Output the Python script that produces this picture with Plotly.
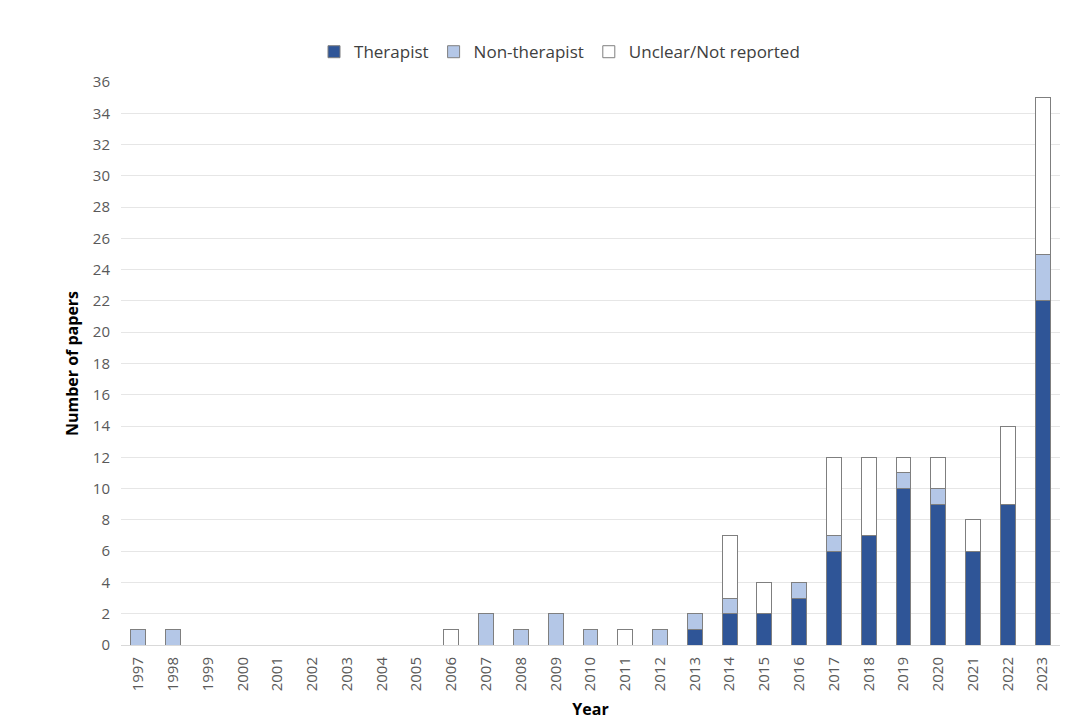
import plotly.graph_objects as go

years = [str(y) for y in range(1997, 2024)]
therapist =     [0,0,0,0,0,0,0,0,0,0,0,0,0,0,0,0,1,2,2,3,6,7,10,9,6,9,22]
non_therapist = [1,1,0,0,0,0,0,0,0,0,2,1,2,1,0,1,1,1,0,1,1,0,1,1,0,0,3]
unclear =       [0,0,0,0,0,0,0,0,0,1,0,0,0,0,1,0,0,4,2,0,5,5,1,2,2,5,10]
y_ticks = list(range(0, 37, 2))

font_family = "Open Sans, Liberation Sans, sans-serif"
line = dict(color="#7f7f7f", width=1)

fig = go.Figure()
fig.add_bar(x=years, y=therapist, name="Therapist",
            marker=dict(color="#2F5597", line=line))
fig.add_bar(x=years, y=non_therapist, name="Non-therapist",
            marker=dict(color="#B4C7E7", line=line))
fig.add_bar(x=years, y=unclear, name="Unclear/Not reported",
            marker=dict(color="#FFFFFF", line=line))

fig.update_layout(
    barmode="stack",
    bargap=0.57,
    width=1084, height=718,
    paper_bgcolor="white", plot_bgcolor="white",
    margin=dict(l=113, r=32, t=74, b=81),
    font=dict(family=font_family, size=15, color="#595959"),
    legend=dict(orientation="h", x=0.467, xanchor="center", y=1.053, yanchor="middle",
                font=dict(size=17, color="#404040"), traceorder="normal",
                itemwidth=30),
    xaxis=dict(
        type="category", automargin=False,
        title=dict(text="<b>Year</b>", font=dict(size=16, color="#000000"), standoff=13),
        tickangle=-90, showgrid=False, showline=False, ticks="",
        ticklabelstandoff=8,
        tickfont=dict(size=15, color="#595959"),
    ),
    yaxis=dict(
        title=dict(text="<b>Number of papers</b>", font=dict(size=16, color="#000000"), standoff=10),
        range=[0, 36], tickvals=y_ticks, showgrid=True, gridcolor="#e6e6e6", gridwidth=1,
        zeroline=True, zerolinecolor="#d9d9d9", zerolinewidth=1,
        showline=False, ticks="", ticklabelstandoff=10,
        tickfont=dict(size=15, color="#595959"),
    ),
)

fig.write_html("out.html")
